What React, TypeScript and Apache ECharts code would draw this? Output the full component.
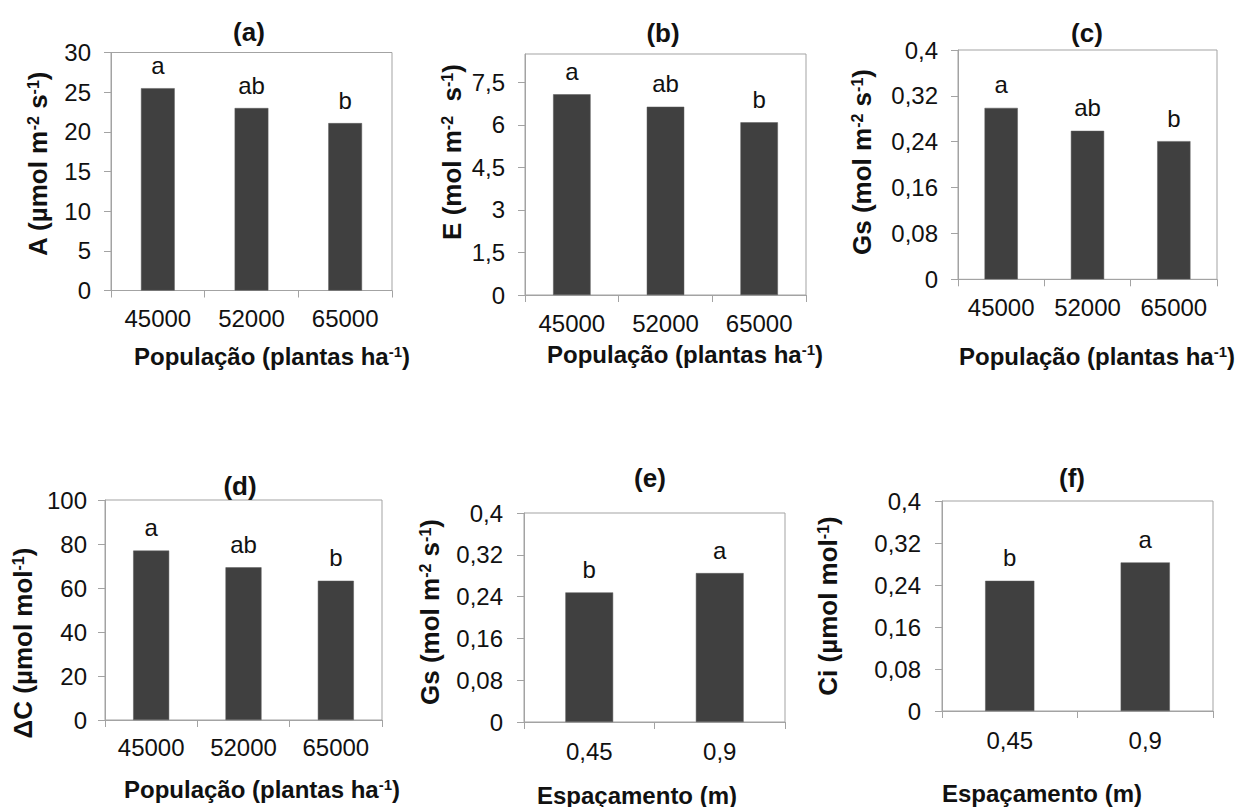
import React, { useEffect, useRef } from 'react';
import * as echarts from 'echarts';

// ---------- data ----------
const popCategories = ['45000', '52000', '65000'];
const spacingCategories = ['0,45', '0,9'];

const photosynthesisA = [25.5, 23.0, 21.1];
const transpirationE = [7.08, 6.64, 6.09];
const conductanceGsPop = [0.299, 0.259, 0.241];
const deltaC = [77.0, 69.4, 63.3];
const conductanceGsSpacing = [0.248, 0.285];
const ciSpacing = [0.248, 0.283];

const popLetters = ['a', 'ab', 'b'];
const spacingLetters = ['b', 'a'];

const ticksA = [0, 5, 10, 15, 20, 25, 30];
const ticksE = [0, 1.5, 3, 4.5, 6, 7.5];
const ticksGs = [0, 0.08, 0.16, 0.24, 0.32, 0.4];
const ticksDeltaC = [0, 20, 40, 60, 80, 100];

const titles = ['(a)', '(b)', '(c)', '(d)', '(e)', '(f)'];
const yNames = [
  'A (µmol m{sup|-2} s{sup|-1})',
  'E (mol m{sup|-2}  s{sup|-1})',
  'Gs (mol m{sup|-2} s{sup|-1})',
  'ΔC (µmol mol{sup|-1})',
  'Gs (mol m{sup|-2} s{sup|-1})',
  'Ci (µmol mol{sup|-1})',
];
const popName = 'População (plantas ha{sup|-1})';
const spacingName = 'Espaçamento (m)';

// ---------- layout / style ----------
const FONT = '"Liberation Sans", Arial, Helvetica, sans-serif';
const AXIS_COLOR = '#a3a3a3';
const BAR_COLOR = '#404040';
const TEXT_COLOR = '#111111';
const TICK_FONT = 24;

const panels = [
  { cats: popCategories, values: photosynthesisA, letters: popLetters, ticks: ticksA, max: 30,
    grid: { left: 111, top: 52.5, width: 281, height: 238 }, barWidth: '36%',
    title: [249, 32], yName: [38, 164], xNameText: popName, xName: [272, 356], yMargin: 20, xMargin: 16 },
  { cats: popCategories, values: transpirationE, letters: popLetters, ticks: ticksE, max: 8.5,
    grid: { left: 525, top: 54, width: 281, height: 241 }, barWidth: '40%',
    title: [663, 32.5], yName: [452, 152], xNameText: popName, xName: [685, 354], yMargin: 20, xMargin: 16 },
  { cats: popCategories, values: conductanceGsPop, letters: popLetters, ticks: ticksGs, max: 0.4,
    grid: { left: 958, top: 50, width: 259, height: 229.3 }, barWidth: '38.5%',
    title: [1087, 32.5], yName: [862, 162], xNameText: popName, xName: [1097, 356], yMargin: 20, xMargin: 16 },
  { cats: popCategories, values: deltaC, letters: popLetters, ticks: ticksDeltaC, max: 100,
    grid: { left: 105, top: 500, width: 277, height: 220 }, barWidth: '39%',
    title: [240, 486], yName: [23, 643], xNameText: popName, xName: [262, 789], yMargin: 18, xMargin: 15 },
  { cats: spacingCategories, values: conductanceGsSpacing, letters: spacingLetters, ticks: ticksGs, max: 0.4,
    grid: { left: 524, top: 513, width: 261, height: 209 }, barWidth: '36.6%',
    title: [650, 477.5], yName: [430, 612], xNameText: spacingName, xName: [637, 795], yMargin: 21, xMargin: 17 },
  { cats: spacingCategories, values: ciSpacing, letters: spacingLetters, ticks: ticksGs, max: 0.4,
    grid: { left: 942, top: 501, width: 271, height: 210 }, barWidth: '36.3%',
    title: [1072, 477.5], yName: [828, 606], xNameText: spacingName, xName: [1042, 793], yMargin: 21, xMargin: 17 },
];

const fmt = (v: number) => String(Math.round(v * 1000) / 1000).replace('.', ',');

const richSup = (size: number) => ({
  sup: { fontSize: size, fontWeight: 'bold', fontFamily: FONT, fill: TEXT_COLOR, verticalAlign: 'top' },
});

export default function App() {
  const ref = useRef<HTMLDivElement>(null);

  useEffect(() => {
    if (!ref.current) return;
    const chart = echarts.init(ref.current, undefined, { renderer: 'svg' });

    const grid: any[] = [];
    const xAxis: any[] = [];
    const yAxis: any[] = [];
    const series: any[] = [];
    const graphic: any[] = [];

    panels.forEach((p, i) => {
      grid.push({ ...p.grid, show: true, borderColor: AXIS_COLOR, borderWidth: 1, containLabel: false });
      xAxis.push({
        type: 'category',
        gridIndex: i,
        data: p.cats,
        axisLine: { show: true, lineStyle: { color: AXIS_COLOR, width: 1 } },
        axisTick: { show: true, alignWithLabel: false, interval: 0, length: 7, lineStyle: { color: AXIS_COLOR } },
        axisLabel: {
          interval: 0, hideOverlap: false,
          fontFamily: FONT, fontSize: TICK_FONT, color: TEXT_COLOR, margin: p.xMargin,
        },
        splitLine: { show: false },
      });
      const interval = p.ticks[1] - p.ticks[0];
      yAxis.push({
        type: 'value',
        gridIndex: i,
        min: 0,
        max: p.max,
        interval,
        axisLine: { show: true, lineStyle: { color: AXIS_COLOR, width: 1 } },
        axisTick: { show: true, length: 7, lineStyle: { color: AXIS_COLOR }, customValues: p.ticks },
        axisLabel: {
          fontFamily: FONT, fontSize: TICK_FONT, color: TEXT_COLOR, margin: p.yMargin,
          formatter: (v: number) => fmt(v), customValues: p.ticks,
        },
        splitLine: { show: false },
      });
      series.push({
        type: 'bar',
        xAxisIndex: i,
        yAxisIndex: i,
        data: p.values,
        barWidth: p.barWidth,
        itemStyle: { color: BAR_COLOR, borderColor: '#5a5a5a', borderWidth: 0.5 },
        label: {
          show: true,
          position: 'top',
          distance: 11,
          fontFamily: FONT,
          fontSize: TICK_FONT,
          color: TEXT_COLOR,
          formatter: (params: any) => p.letters[params.dataIndex],
        },
      });
      graphic.push({
        type: 'text',
        x: p.title[0],
        y: p.title[1],
        style: {
          text: titles[i], fontFamily: FONT, fontSize: 26, fontWeight: 'bold', fill: TEXT_COLOR,
          align: 'center', verticalAlign: 'middle',
        },
      });
      graphic.push({
        type: 'text',
        x: p.yName[0],
        y: p.yName[1],
        rotation: Math.PI / 2,
        style: {
          text: yNames[i], fontFamily: FONT, fontSize: 26, fontWeight: 'bold', fill: TEXT_COLOR,
          align: 'center', verticalAlign: 'middle', rich: richSup(16),
        },
      });
      graphic.push({
        type: 'text',
        x: p.xName[0],
        y: p.xName[1],
        style: {
          text: p.xNameText, fontFamily: FONT, fontSize: 24, fontWeight: 'bold', fill: TEXT_COLOR,
          align: 'center', verticalAlign: 'middle', rich: richSup(15),
        },
      });
    });

    chart.setOption({
      animation: false,
      backgroundColor: '#ffffff',
      grid,
      xAxis,
      yAxis,
      series,
      graphic,
    });

    return () => chart.dispose();
  }, []);

  return (
    <div
      ref={ref}
      style={{ position: 'absolute', left: 0, top: 0, width: 1236, height: 807 }}
    />
  );
}
